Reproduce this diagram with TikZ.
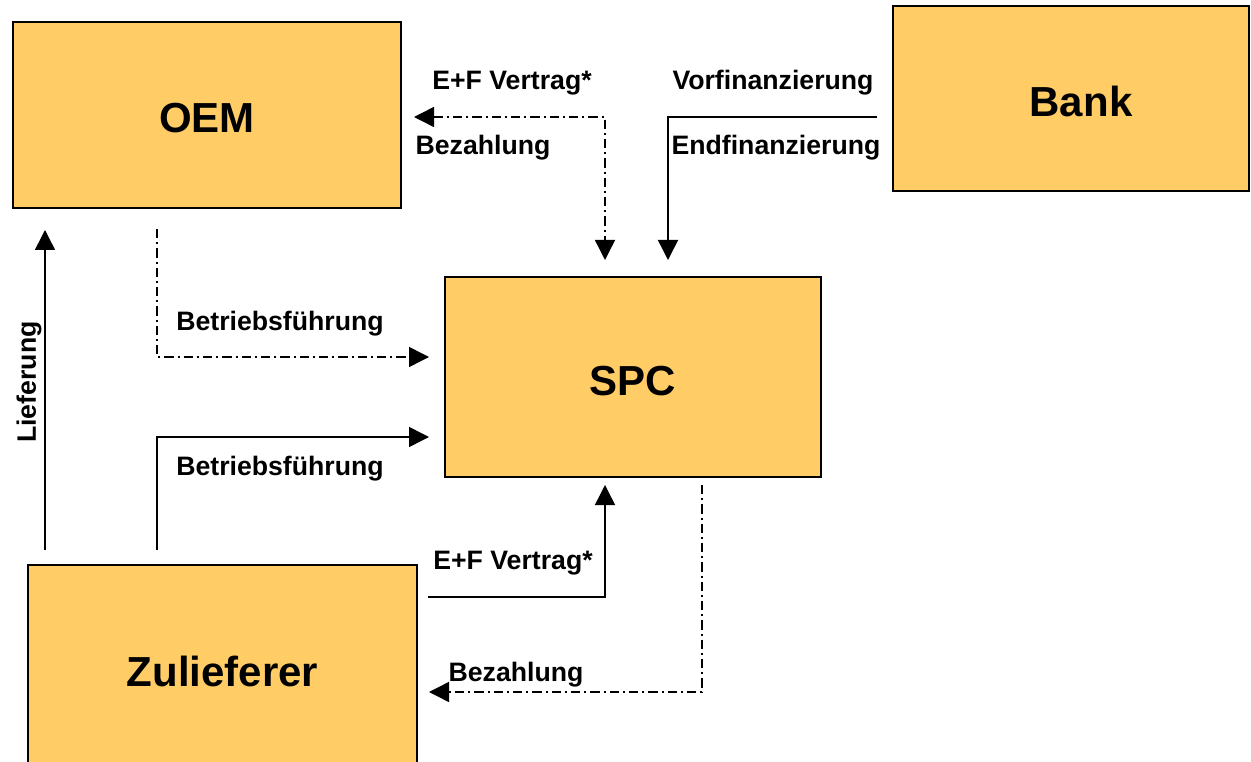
\documentclass[tikz,border=0pt]{standalone}
\usepackage{fontspec}
\setmainfont{Liberation Sans}
\usetikzlibrary{arrows.meta}
\definecolor{boxfill}{RGB}{255,204,102}

\begin{document}
\begin{tikzpicture}[x=0.75pt,y=-0.75pt,
		box/.style={shape=rectangle,draw=black,line width=1.5pt,fill=boxfill,inner sep=0pt,
			text height=27pt,text depth=0pt,font=\fontsize{31.5}{36}\selectfont\bfseries},
		flow/.style={line width=1.1pt,-{Triangle[length=15pt,width=15pt]}},
		dashdot/.style={dash pattern=on 7pt off 3pt on 1.5pt off 3pt},
		lbl/.style={inner sep=0pt,font=\fontsize{20}{24}\selectfont\bfseries}]

		\useasboundingbox (0,0) rectangle (1251,762);
		\clip (0,0) rectangle (1251,762);

		% box sizes in pt (1px = 0.75pt)
		\node[box,minimum width=291pt,minimum height=139.5pt]  (oem)  at (207,115)   {OEM};
		\node[box,minimum width=267pt,minimum height=138.75pt] (bank) at (1071,98.5) {\hspace*{15pt}Bank};
		\node[box,minimum width=282pt,minimum height=150pt]    (spc)  at (633,377)   {SPC};
		\node[box,minimum width=291.75pt,minimum height=154.5pt] (zul) at (222.5,668) {Zulieferer};

		\coordinate (V1) at (414,117);
		\coordinate (V2) at (605,260);
		\coordinate (F1) at (877,117);
		\coordinate (F2) at (668,260);
		\coordinate (L1) at (45,550);
		\coordinate (L2) at (45,230);
		\coordinate (B1) at (157,229);
		\coordinate (B2) at (429,357);
		\coordinate (B3) at (157,550);
		\coordinate (B4) at (429,437);
		\coordinate (E1) at (428,597);
		\coordinate (E2) at (605,485);
		\coordinate (Z1) at (702,485);
		\coordinate (Z2) at (429,692);

		\draw[flow,dashdot,{Triangle[length=15pt,width=15pt]}-{Triangle[length=15pt,width=15pt]}] (V1) -| (V2);
		\draw[flow] (F1) -| (F2);
		\draw[flow] (L1) -- (L2);
		\draw[flow,dashdot] (B1) |- (B2);
		\draw[flow] (B3) |- (B4);
		\draw[flow] (E1) -| (E2);
		\draw[flow,dashdot] (Z1) |- (Z2);

		\node[lbl] (v1) at (512,83)  {E+F Vertrag*};
		\node[lbl] (v2) at (483,148) {Bezahlung};
		\node[lbl] (f1) at (773,83)  {Vorfinanzierung};
		\node[lbl] (f2) at (776,148) {Endfinanzierung};
		\node[lbl,rotate=90] (l1) at (29,382) {Lieferung};
		\node[lbl] (b1) at (280,324) {Betriebsführung};
		\node[lbl] (b2) at (280,469) {Betriebsführung};
		\node[lbl] (e1) at (513,563) {E+F Vertrag*};
		\node[lbl] (z1) at (516,675) {Bezahlung};
\end{tikzpicture}
\end{document}
